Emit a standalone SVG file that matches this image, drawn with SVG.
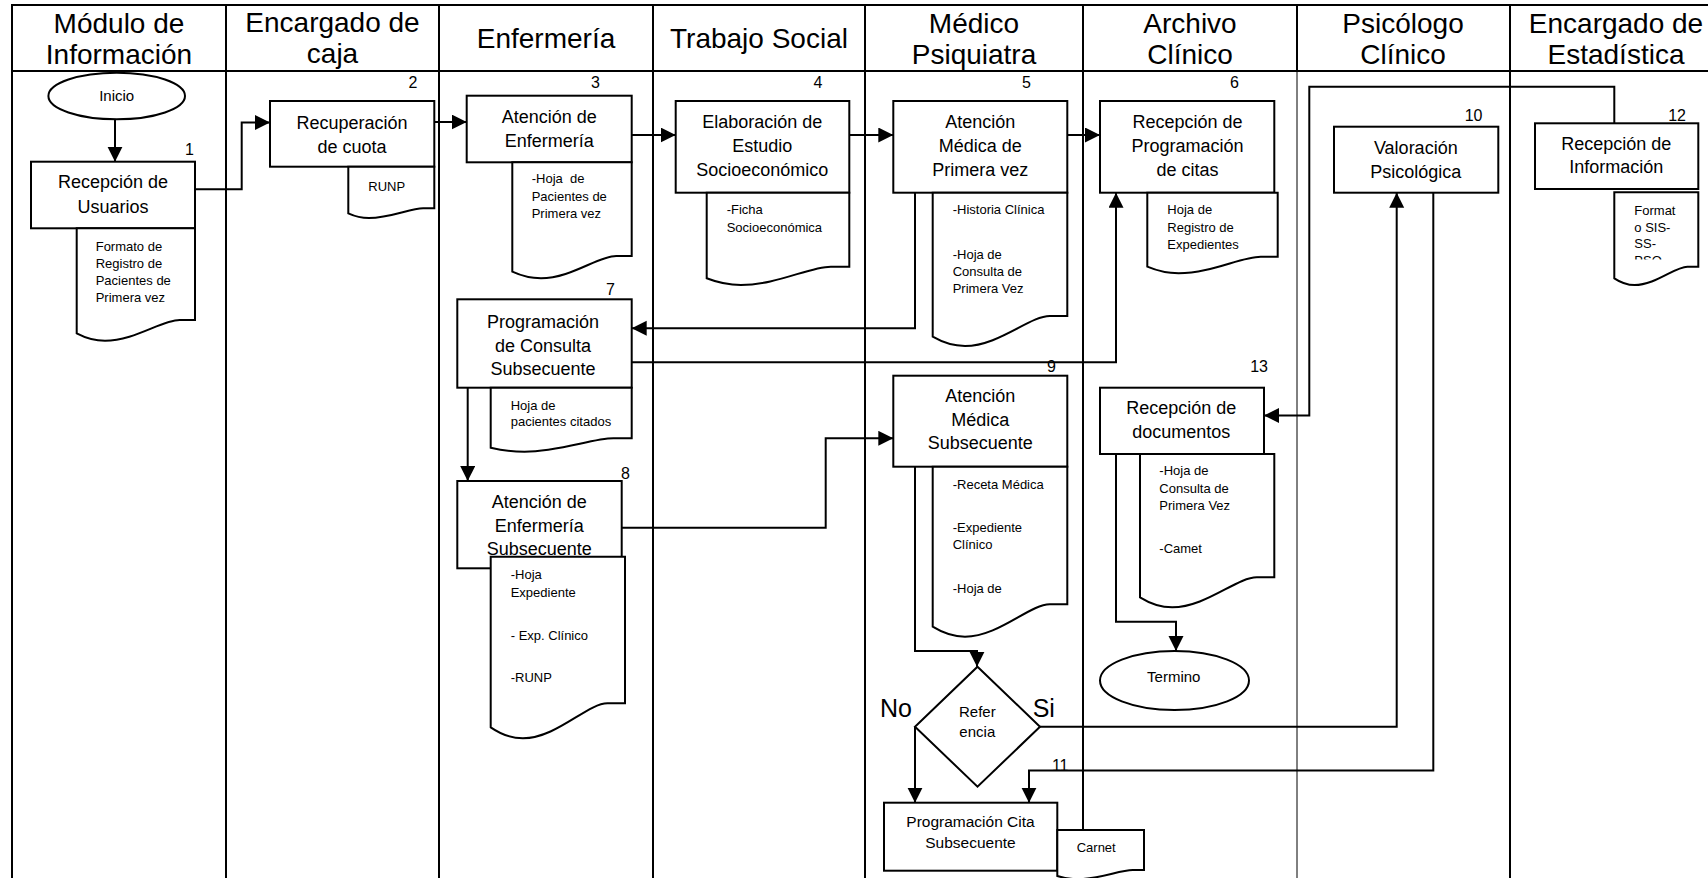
<svg xmlns="http://www.w3.org/2000/svg" width="1708" height="878" viewBox="0 0 1708 878">
  <style>
    text { font-family: "Liberation Sans", Arial, Helvetica, sans-serif; fill: #000; }
    .h { font-size: 28px; text-anchor: middle; }
    .t { font-size: 18px; text-anchor: middle; }
    .m { font-size: 15px; text-anchor: middle; }
    .s { font-size: 13px; }
    .n { font-size: 16px; text-anchor: end; }
    .yn { font-size: 25px; }
    .lane { stroke: #000; stroke-width: 2; fill: none; }
    .thin { stroke: #000; stroke-width: 1; fill: none; }
    .box { fill: #fff; stroke: #000; stroke-width: 2; }
    .conn { fill: none; stroke: #000; stroke-width: 2; marker-end: url(#ah); }
  </style>
  <defs>
    <marker id="ah" markerUnits="userSpaceOnUse" markerWidth="16" markerHeight="16" refX="15" refY="7.5" orient="auto">
      <path d="M0,0 L15,7.5 L0,15 z" fill="#000"/>
    </marker>
    <clipPath id="clip12">
      <rect x="1614" y="192" width="85" height="67.5"/>
    </clipPath>
  </defs>
  <rect width="1708" height="878" fill="#fff"/>

  <!-- swimlanes -->
  <g id="lanes">
    <line class="lane" x1="12" y1="5" x2="1708" y2="5"/>
    <line class="lane" x1="12" y1="71" x2="1708" y2="71"/>
    <line class="lane" x1="12" y1="4" x2="12" y2="878"/>
    <line class="lane" x1="226" y1="5" x2="226" y2="878"/>
    <line class="lane" x1="439" y1="5" x2="439" y2="878"/>
    <line class="lane" x1="653" y1="5" x2="653" y2="878"/>
    <line class="lane" x1="865" y1="5" x2="865" y2="878"/>
    <line class="lane" x1="1083" y1="5" x2="1083" y2="832"/>
    <line class="lane" x1="1297" y1="5" x2="1297" y2="71"/>
    <line class="thin" x1="1297" y1="71" x2="1297" y2="878"/>
    <line class="lane" x1="1510" y1="5" x2="1510" y2="878"/>
    <text class="h" x="119" y="33">Módulo de</text>
    <text class="h" x="119" y="64">Información</text>
    <text class="h" x="332.5" y="32">Encargado de</text>
    <text class="h" x="332.5" y="63">caja</text>
    <text class="h" x="546" y="48">Enfermería</text>
    <text class="h" x="759" y="48">Trabajo Social</text>
    <text class="h" x="974" y="33">Médico</text>
    <text class="h" x="974" y="64">Psiquiatra</text>
    <text class="h" x="1190" y="33">Archivo</text>
    <text class="h" x="1190" y="64">Clínico</text>
    <text class="h" x="1403" y="33">Psicólogo</text>
    <text class="h" x="1403" y="64">Clínico</text>
    <text class="h" x="1616" y="33">Encargado de</text>
    <text class="h" x="1616" y="64">Estadística</text>
  </g>

  <!-- connectors -->
  <g id="connectors">
    <path class="conn" d="M115,119.3 V161.7"/>
    <path class="conn" d="M195,189.3 H241.7 V122.5 H270"/>
    <path class="conn" d="M434.3,122 H466.7"/>
    <path class="conn" d="M631.7,135 H675.7"/>
    <path class="conn" d="M849.3,135 H893.3"/>
    <path class="conn" d="M1067.3,135 H1100"/>
    <path class="conn" d="M915,192.7 V328.3 H631.7"/>
    <path class="conn" d="M631.7,362.3 H1116 V192.7"/>
    <path class="conn" d="M467.7,387.7 V481"/>
    <path class="conn" d="M621.7,527.7 H825.7 V438.3 H893.3"/>
    <path class="conn" d="M915,466.7 V651 H977 V666.7"/>
    <path class="conn" d="M915,726.7 V802.7"/>
    <path class="conn" d="M1040,726.7 H1396.7 V192.7"/>
    <path class="conn" d="M1433.3,192.7 V770.5 H1029 V802.7"/>
    <path class="conn" d="M1614.3,123.3 V86.7 H1309.3 V415.5 H1264"/>
    <path class="conn" d="M1116,454 V621.7 H1176 V651"/>
  </g>

  <!-- start -->
  <g id="inicio">
    <ellipse class="box" cx="116.7" cy="96" rx="68.3" ry="23.3"/>
    <text class="m" x="116.7" y="101">Inicio</text>
  </g>

  <!-- 1 -->
  <g id="recepcion-usuarios">
    <text class="n" x="194" y="155">1</text>
    <rect class="box" x="31" y="161.7" width="164" height="66.6"/>
    <text class="t" x="113" y="188">Recepción de</text>
    <text class="t" x="113" y="212.7">Usuarios</text>
    <path class="box" d="M76.7,228.3 H195 V320 H179.6 C161.9,320 134.6,340.7 105,340.7 Q90.8,340.7 76.7,333.3 Z"/>
    <text class="s" x="95.7" y="250.7">Formato de</text>
    <text class="s" x="95.7" y="267.7">Registro de</text>
    <text class="s" x="95.7" y="285">Pacientes de</text>
    <text class="s" x="95.7" y="301.7">Primera vez</text>
  </g>

  <!-- 2 -->
  <g id="recuperacion-cuota">
    <text class="n" x="417.5" y="88">2</text>
    <rect class="box" x="270" y="101" width="164.3" height="65.7"/>
    <text class="t" x="352" y="129.3">Recuperación</text>
    <text class="t" x="352" y="152.7">de cuota</text>
    <path class="box" d="M348.3,166.7 H434.3 V208.3 H423.1 C410.2,208.3 390.4,218 368.9,218 Q358.6,218 348.3,213.3 Z"/>
    <text class="s" x="368.3" y="190.7">RUNP</text>
  </g>

  <!-- 3 -->
  <g id="atencion-enfermeria">
    <text class="n" x="600" y="88">3</text>
    <rect class="box" x="466.7" y="95.7" width="165" height="66.6"/>
    <text class="t" x="549.2" y="123">Atención de</text>
    <text class="t" x="549.2" y="146.7">Enfermería</text>
    <path class="box" d="M512.3,162.3 H631.7 V256 H616.2 C598.3,256 570.9,278.3 541,278.3 Q526.7,278.3 512.3,271.7 Z"/>
    <text class="s" x="531.7" y="183.3" xml:space="preserve">-Hoja  de</text>
    <text class="s" x="531.7" y="201">Pacientes de</text>
    <text class="s" x="531.7" y="218.3">Primera vez</text>
  </g>

  <!-- 4 -->
  <g id="estudio-socioeconomico">
    <text class="n" x="822.5" y="88">4</text>
    <rect class="box" x="675.7" y="101" width="173.6" height="91.7"/>
    <text class="t" x="762.2" y="128.3">Elaboración de</text>
    <text class="t" x="762.2" y="152.3">Estudio</text>
    <text class="t" x="762.2" y="176">Socioeconómico</text>
    <path class="box" d="M706.7,192.7 H849.3 V266.7 H830.8 C809.4,266.7 776.6,285 740.9,285 Q723.8,285 706.7,278.3 Z"/>
    <text class="s" x="726.7" y="214.3">-Ficha</text>
    <text class="s" x="726.7" y="232.3">Socioeconómica</text>
  </g>

  <!-- 5 -->
  <g id="atencion-medica-primera">
    <text class="n" x="1031" y="88">5</text>
    <rect class="box" x="893.3" y="101" width="174" height="91.7"/>
    <text class="t" x="980.3" y="128.3">Atención</text>
    <text class="t" x="980.3" y="152.3">Médica de</text>
    <text class="t" x="980.3" y="176">Primera vez</text>
    <path class="box" d="M932.7,192.7 H1067.3 V316 H1049.8 C1029.6,316 998.7,346 965,346 Q948.8,346 932.7,336.7 Z"/>
    <text class="s" x="952.7" y="214.3">-Historia Clínica</text>
    <text class="s" x="952.7" y="259">-Hoja de</text>
    <text class="s" x="952.7" y="276">Consulta de</text>
    <text class="s" x="952.7" y="292.7">Primera Vez</text>
  </g>

  <!-- 6 -->
  <g id="recepcion-programacion">
    <text class="n" x="1239" y="88">6</text>
    <rect class="box" x="1100" y="101" width="174.3" height="91.7"/>
    <text class="t" x="1187.5" y="128.3">Recepción de</text>
    <text class="t" x="1187.5" y="152.3">Programación</text>
    <text class="t" x="1187.5" y="176">de citas</text>
    <path class="box" d="M1147.3,192.7 H1277.7 V256.7 H1260.7 C1241.1,256.7 1211.2,273.3 1178.6,273.3 Q1163,273.3 1147.3,266.7 Z"/>
    <text class="s" x="1167.3" y="214.3">Hoja de</text>
    <text class="s" x="1167.3" y="232.3">Registro de</text>
    <text class="s" x="1167.3" y="249.3">Expedientes</text>
  </g>

  <!-- 7 -->
  <g id="programacion-consulta">
    <text class="n" x="615" y="295">7</text>
    <rect class="box" x="457.3" y="299.3" width="174.4" height="88.4"/>
    <text class="t" x="543" y="327.7">Programación</text>
    <text class="t" x="543" y="351.7">de Consulta</text>
    <text class="t" x="543" y="375">Subsecuente</text>
    <path class="box" d="M490.7,387.7 H631.7 V438.3 H613.4 C592.2,438.3 559.8,451.7 524.5,451.7 Q507.6,451.7 490.7,447.7 Z"/>
    <text class="s" x="510.7" y="410">Hoja de</text>
    <text class="s" x="510.7" y="426">pacientes citados</text>
  </g>

  <!-- 8 -->
  <g id="enfermeria-subsecuente">
    <text class="n" x="630" y="479.3">8</text>
    <rect class="box" x="457.3" y="481" width="164.4" height="87.3"/>
    <text class="t" x="539.2" y="507.7">Atención de</text>
    <text class="t" x="539.2" y="531.7">Enfermería</text>
    <text class="t" x="539.2" y="555">Subsecuente</text>
    <path class="box" d="M490.7,556.7 H625 V703.3 H607.5 C587.4,703.3 556.5,738.3 522.9,738.3 Q506.8,738.3 490.7,727.3 Z"/>
    <text class="s" x="510.7" y="579">-Hoja</text>
    <text class="s" x="510.7" y="596.7">Expediente</text>
    <text class="s" x="510.7" y="640">- Exp. Clínico</text>
    <text class="s" x="510.7" y="681.7">-RUNP</text>
  </g>

  <!-- 9 -->
  <g id="atencion-medica-subsecuente">
    <text class="n" x="1056" y="371.7">9</text>
    <rect class="box" x="893.3" y="375.7" width="174" height="91"/>
    <text class="t" x="980.2" y="401.7">Atención</text>
    <text class="t" x="980.2" y="426">Médica</text>
    <text class="t" x="980.2" y="449.3">Subsecuente</text>
    <path class="box" d="M932.7,466.7 H1067.3 V604.3 H1049.8 C1029.6,604.3 998.7,636.7 965,636.7 Q948.8,636.7 932.7,626.7 Z"/>
    <text class="s" x="952.7" y="489.3">-Receta Médica</text>
    <text class="s" x="952.7" y="532.3">-Expediente</text>
    <text class="s" x="952.7" y="549.3">Clínico</text>
    <text class="s" x="952.7" y="592.7">-Hoja de</text>
  </g>

  <!-- decision -->
  <g id="referencia">
    <polygon class="box" points="977.5,666.7 1040,726.7 977.5,786.7 915,726.7"/>
    <text class="m" x="977.3" y="716.5">Refer</text>
    <text class="m" x="977.3" y="736.7">encia</text>
    <text class="yn" x="880" y="716.7">No</text>
    <text class="yn" x="1032.7" y="716.7">Si</text>
  </g>

  <!-- 10 -->
  <g id="valoracion-psicologica">
    <text class="n" x="1482.5" y="120.7">10</text>
    <rect class="box" x="1334" y="126.7" width="164.3" height="66"/>
    <text class="t" x="1415.8" y="154">Valoración</text>
    <text class="t" x="1415.8" y="178.3">Psicológica</text>
  </g>

  <!-- 11 -->
  <g id="programacion-cita">
    <text class="n" x="1068.5" y="770.7">11</text>
    <rect class="box" x="884" y="802.7" width="173.3" height="68"/>
    <text class="m" x="970.5" y="826.7" style="font-size:15.5px">Programación Cita</text>
    <text class="m" x="970.5" y="847.7" style="font-size:15.5px">Subsecuente</text>
  </g>

  <!-- carnet document -->
  <g id="carnet">
    <path class="box" d="M1057.3,830 H1144 V870 H1132.7 C1119.7,870 1099.8,879.2 1078.1,879.2 Q1067.7,879.2 1057.3,876 Z"/>
    <text class="s" x="1076.7" y="851.7">Carnet</text>
  </g>

  <!-- 12 -->
  <g id="recepcion-informacion">
    <text class="n" x="1686" y="120.7">12</text>
    <rect class="box" x="1535" y="123.3" width="163.3" height="65.7"/>
    <text class="t" x="1616.3" y="150">Recepción de</text>
    <text class="t" x="1616.3" y="173.3">Información</text>
    <path class="box" d="M1614.3,192.3 H1698.3 V266.7 H1687.4 C1674.8,266.7 1655.5,285 1634.5,285 Q1624.4,285 1614.3,278.3 Z"/>
    <g clip-path="url(#clip12)">
      <text class="s" x="1634.3" y="215">Format</text>
      <text class="s" x="1634.3" y="231.5">o SIS-</text>
      <text class="s" x="1634.3" y="248.3">SS-</text>
      <text class="s" x="1634.3" y="265.3">PSO</text>
    </g>
  </g>

  <!-- 13 -->
  <g id="recepcion-documentos">
    <text class="n" x="1268" y="371.7">13</text>
    <rect class="box" x="1100" y="387.7" width="164" height="66.3"/>
    <text class="t" x="1181.3" y="414.3">Recepción de</text>
    <text class="t" x="1181.3" y="438.3">documentos</text>
    <path class="box" d="M1140,454 H1274.3 V577.3 H1256.8 C1236.7,577.3 1205.8,607.3 1172.2,607.3 Q1156.1,607.3 1140,597.3 Z"/>
    <text class="s" x="1159.3" y="475">-Hoja de</text>
    <text class="s" x="1159.3" y="493.3">Consulta de</text>
    <text class="s" x="1159.3" y="510">Primera Vez</text>
    <text class="s" x="1159.3" y="553.3">-Camet</text>
  </g>

  <!-- end -->
  <g id="termino">
    <ellipse class="box" cx="1174.5" cy="680.5" rx="74.5" ry="29.5"/>
    <text class="m" x="1173.8" y="681.7">Termino</text>
  </g>
</svg>
